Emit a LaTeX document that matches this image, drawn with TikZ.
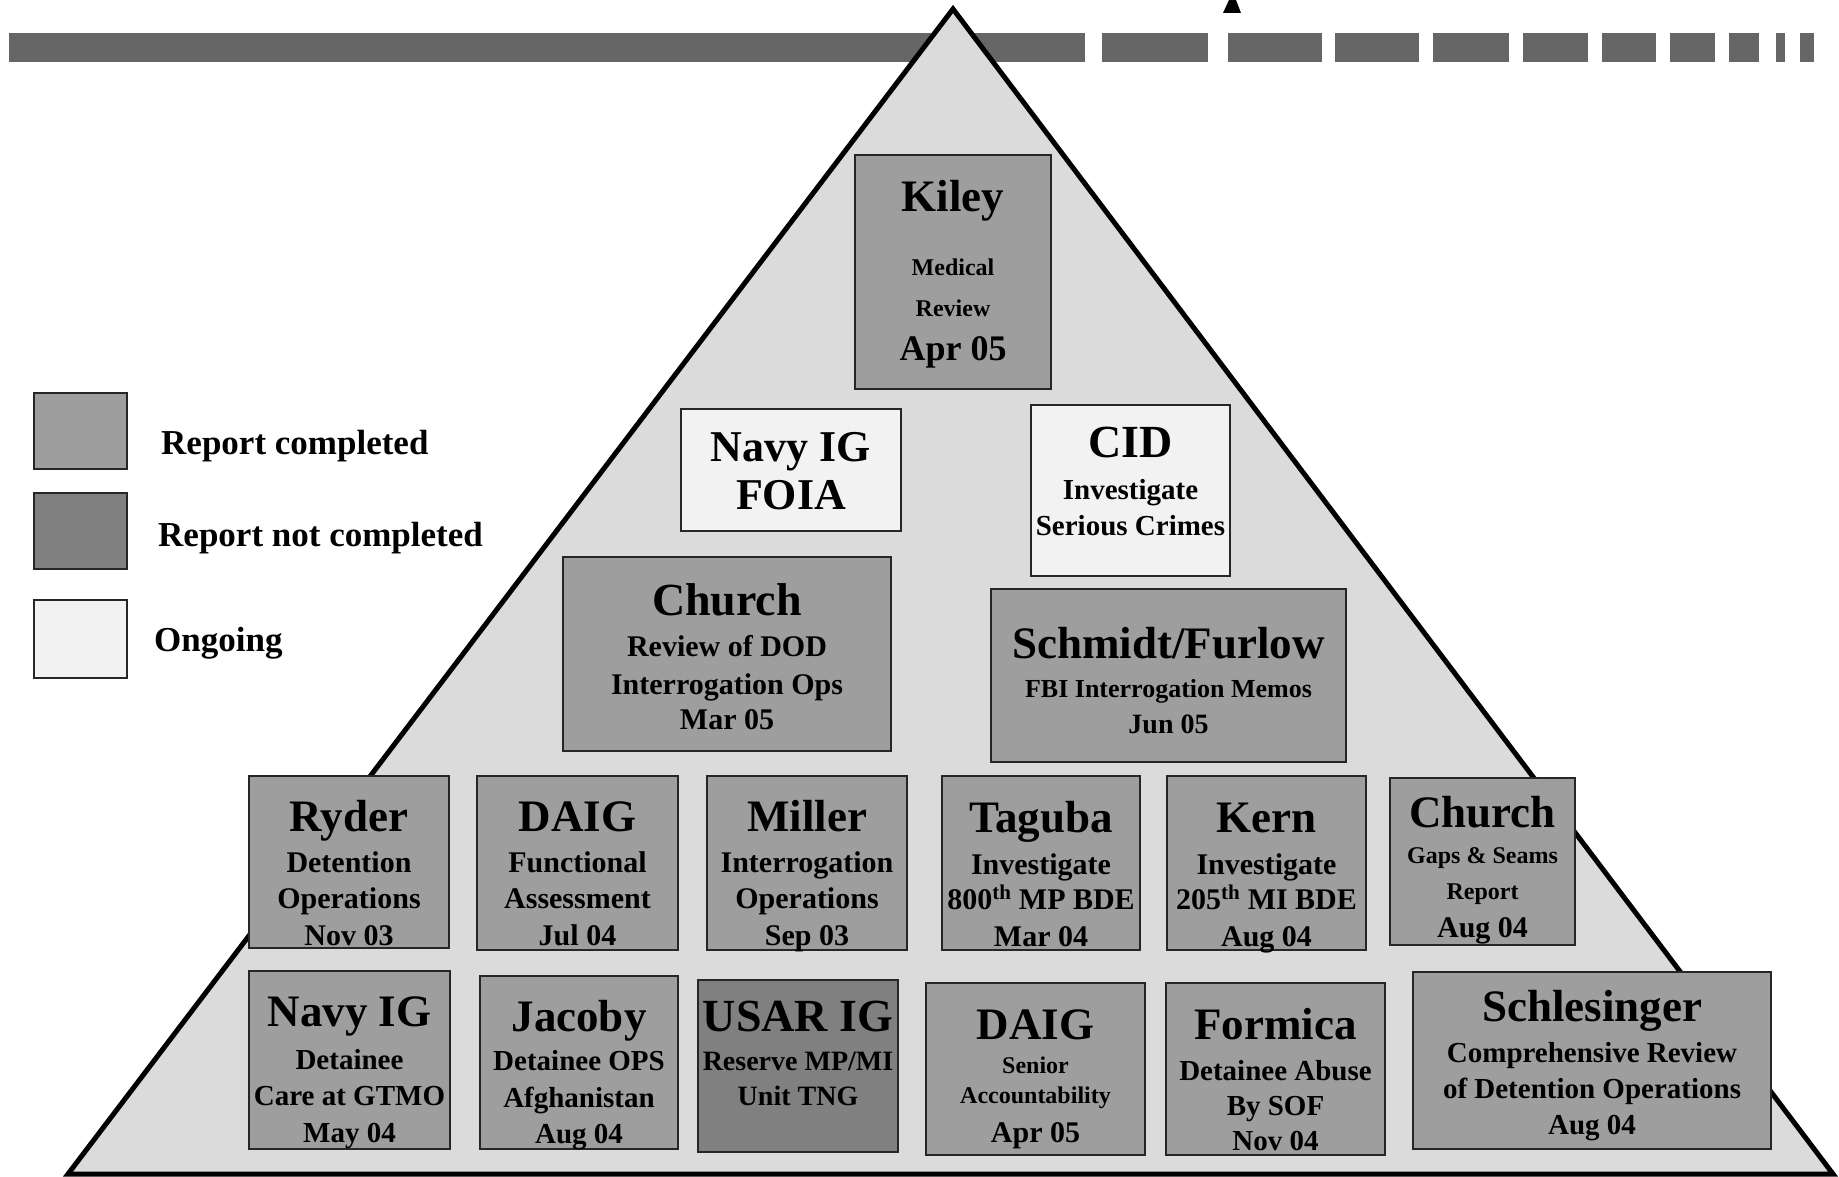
\documentclass[tikz,border=0pt]{standalone}
\usepackage{fontspec}
\setmainfont{Liberation Serif}
\definecolor{tri}{gray}{0.86}
\definecolor{cdone}{gray}{0.62}
\definecolor{cnot}{gray}{0.50}
\definecolor{congo}{gray}{0.95}
\definecolor{cbar}{gray}{0.40}
\newcommand\fz[1]{\fontsize{#1}{#1}\selectfont}
\tikzset{
  bx/.style={draw=black!85, line width=2pt, inner sep=0pt},
  done/.style={bx, fill=cdone},
  notdone/.style={bx, fill=cnot},
  ongo/.style={bx, fill=congo},
  ln/.style={anchor=base, inner sep=0pt, font=\bfseries},
  lg/.style={anchor=base west, inner sep=0pt, font=\bfseries\fz{35}},
  barseg/.style={fill=cbar},
}
\begin{document}
\begin{tikzpicture}[x=1pt,y=-1pt]
\useasboundingbox (0,0) rectangle (1839,1177);
% banner bar
\fill[barseg] (9,33) rectangle (1085,62);
\foreach \a/\b in {1102/1208,1228/1322,1335/1419,1433/1509,1523/1588,1602/1656,1670/1715,1729/1759,1776/1785,1800/1814}
  \fill[barseg] (\a,33) rectangle (\b,62);
% fragment of cut-off title
\fill (1223,13) -- (1241,13) -- (1236,0) -- (1229,0) -- cycle;
% pyramid
\draw[line width=5pt, fill=tri, line join=miter] (953,9) -- (1833,1174) -- (68,1174) -- cycle;

% legend
\node[done, minimum width=93pt, minimum height=76pt] (lg1) at (80.5,431) {};
\node[notdone, minimum width=93pt, minimum height=76pt] (lg2) at (80.5,531) {};
\node[ongo, minimum width=93pt, minimum height=78pt] (lg3) at (80.5,639) {};
\node[lg] (lg1t) at (161,454) {Report completed};
\node[lg] (lg2t) at (158,546) {Report not completed};
\node[lg] (lg3t) at (154,651) {Ongoing};

% Kiley
\node[done, minimum width=196pt, minimum height=234pt] (kiley) at (953,272) {};
\node[ln] (kiley1) at (953,212) {\fz{45}Kiley};
\node[ln] (kiley2) at (953,275) {\fz{24}Medical};
\node[ln] (kiley3) at (953,316) {\fz{24}Review};
\node[ln] (kiley4) at (953,360) {\fz{36}Apr 05};

% Navy IG FOIA
\node[ongo, minimum width=220pt, minimum height=122pt] (nfoia) at (791,470) {};
\node[ln] (nfoia1) at (791,461) {\fz{44}Navy IG};
\node[ln] (nfoia2) at (791,509) {\fz{44}FOIA};

% CID
\node[ongo, minimum width=199pt, minimum height=171pt] (cid) at (1130.5,490.5) {};
\node[ln] (cid1) at (1130.5,457) {\fz{46}CID};
\node[ln] (cid2) at (1130.5,499) {\fz{29}Investigate};
\node[ln] (cid3) at (1130.5,535) {\fz{29}Serious Crimes};

% Church review
\node[done, minimum width=328pt, minimum height=194pt] (church1) at (727,654) {};
\node[ln] (church1a) at (727,615) {\fz{46}Church};
\node[ln] (church1b) at (727,656) {\fz{30}Review of DOD};
\node[ln] (church1c) at (727,694) {\fz{30}Interrogation Ops};
\node[ln] (church1d) at (727,729) {\fz{30}Mar 05};

% Schmidt/Furlow
\node[done, minimum width=355pt, minimum height=173pt] (schmidt) at (1168.5,675.5) {};
\node[ln] (schmidt1) at (1168.5,658) {\fz{45}Schmidt/Furlow};
\node[ln] (schmidt2) at (1168.5,697) {\fz{26}FBI Interrogation Memos};
\node[ln] (schmidt3) at (1168.5,733) {\fz{28}Jun 05};

% Row 4
\node[done, minimum width=200pt, minimum height=172pt] (ryder) at (349,862) {};
\node[ln] (ryder1) at (349,831) {\fz{45}Ryder};
\node[ln] (ryder2) at (349,872) {\fz{30}Detention};
\node[ln] (ryder3) at (349,908) {\fz{30}Operations};
\node[ln] (ryder4) at (349,945) {\fz{30}Nov 03};

\node[done, minimum width=201pt, minimum height=174pt] (daig1) at (577.5,863) {};
\node[ln] (daig1a) at (577.5,831) {\fz{45}DAIG};
\node[ln] (daig1b) at (577.5,872) {\fz{30}Functional};
\node[ln] (daig1c) at (577.5,908) {\fz{30}Assessment};
\node[ln] (daig1d) at (577.5,945) {\fz{30}Jul 04};

\node[done, minimum width=200pt, minimum height=174pt] (miller) at (807,863) {};
\node[ln] (miller1) at (807,831) {\fz{45}Miller};
\node[ln] (miller2) at (807,872) {\fz{30}Interrogation};
\node[ln] (miller3) at (807,908) {\fz{30}Operations};
\node[ln] (miller4) at (807,945) {\fz{30}Sep 03};

\node[done, minimum width=198pt, minimum height=174pt] (taguba) at (1041,863) {};
\node[ln] (taguba1) at (1041,832) {\fz{45}Taguba};
\node[ln] (taguba2) at (1041,874) {\fz{30}Investigate};
\node[ln] (taguba3) at (1041,909) {\fz{30}800\textsuperscript{th} MP BDE};
\node[ln] (taguba4) at (1041,946) {\fz{30}Mar 04};

\node[done, minimum width=199pt, minimum height=174pt] (kern) at (1266.5,863) {};
\node[ln] (kern1) at (1266.5,832) {\fz{45}Kern};
\node[ln] (kern2) at (1266.5,874) {\fz{30}Investigate};
\node[ln] (kern3) at (1266.5,909) {\fz{30}205\textsuperscript{th} MI BDE};
\node[ln] (kern4) at (1266.5,946) {\fz{30}Aug 04};

\node[done, minimum width=185pt, minimum height=167pt] (church2) at (1482.5,861.5) {};
\node[ln] (church2a) at (1482.5,827) {\fz{45}Church};
\node[ln] (church2b) at (1482.5,863) {\fz{24}Gaps \& Seams};
\node[ln] (church2c) at (1482.5,899) {\fz{24}Report};
\node[ln] (church2d) at (1482.5,937) {\fz{30}Aug 04};

% Row 5
\node[done, minimum width=201pt, minimum height=178pt] (navy2) at (349.5,1060) {};
\node[ln] (navy2a) at (349.5,1026) {\fz{45}Navy IG};
\node[ln] (navy2b) at (349.5,1069) {\fz{29}Detainee};
\node[ln] (navy2c) at (349.5,1105) {\fz{29}Care at GTMO};
\node[ln] (navy2d) at (349.5,1142) {\fz{29}May 04};

\node[done, minimum width=198pt, minimum height=173pt] (jacoby) at (579,1062.5) {};
\node[ln] (jacoby1) at (579,1031) {\fz{45}Jacoby};
\node[ln] (jacoby2) at (579,1070) {\fz{29}Detainee OPS};
\node[ln] (jacoby3) at (579,1107) {\fz{29}Afghanistan};
\node[ln] (jacoby4) at (579,1143) {\fz{29}Aug 04};

\node[notdone, minimum width=200pt, minimum height=172pt] (usar) at (798,1066) {};
\node[ln] (usar1) at (798,1031) {\fz{46}USAR IG};
\node[ln] (usar2) at (798,1070) {\fz{28}Reserve MP/MI};
\node[ln] (usar3) at (798,1105) {\fz{28}Unit TNG};

\node[done, minimum width=219pt, minimum height=172pt] (daig2) at (1035.5,1069) {};
\node[ln] (daig2a) at (1035.5,1039) {\fz{45}DAIG};
\node[ln] (daig2b) at (1035.5,1073) {\fz{24}Senior};
\node[ln] (daig2c) at (1035.5,1103) {\fz{24}Accountability};
\node[ln] (daig2d) at (1035.5,1142) {\fz{30}Apr 05};

\node[done, minimum width=219pt, minimum height=172pt] (formica) at (1275.5,1069) {};
\node[ln] (formica1) at (1275.5,1039) {\fz{45}Formica};
\node[ln] (formica2) at (1275.5,1080) {\fz{29}Detainee Abuse};
\node[ln] (formica3) at (1275.5,1115) {\fz{29}By SOF};
\node[ln] (formica4) at (1275.5,1150) {\fz{29}Nov 04};

\node[done, minimum width=358pt, minimum height=177pt] (schles) at (1592,1060.5) {};
\node[ln] (schles1) at (1592,1021) {\fz{45}Schlesinger};
\node[ln] (schles2) at (1592,1062) {\fz{29}Comprehensive Review};
\node[ln] (schles3) at (1592,1098) {\fz{29}of Detention Operations};
\node[ln] (schles4) at (1592,1134) {\fz{29}Aug 04};
\end{tikzpicture}
\end{document}
